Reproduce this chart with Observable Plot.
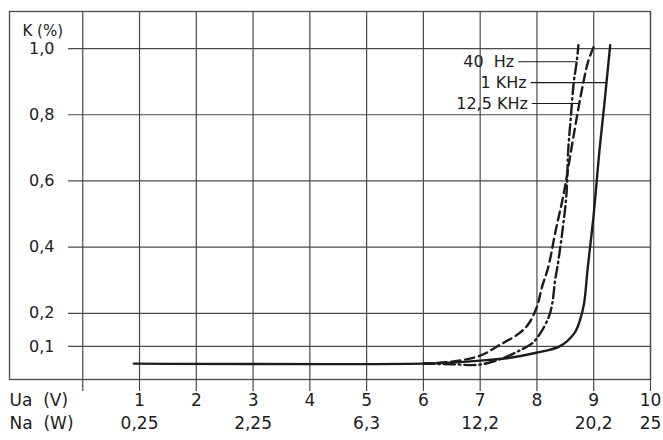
<!DOCTYPE html>
<html>
<head>
<meta charset="utf-8">
<script src="https://cdn.jsdelivr.net/npm/d3@7"></script>
<script src="https://cdn.jsdelivr.net/npm/@observablehq/plot@0.6"></script>
<style>
  html, body { margin: 0; padding: 0; background: #fff; }
  #chart svg { display: block; }
</style>
</head>
<body>
<div id="chart"></div>
<script>
// ---- Axis ticks and labels ----
const gridX = [0, 1, 2, 3, 4, 5, 6, 7, 8, 9, 10];
const uaTicks = [1, 2, 3, 4, 5, 6, 7, 8, 9, 10];
const naTicks = [1, 3, 5, 7, 9, 10];
const naLabels = ["0,25", "2,25", "6,3", "12,2", "20,2", "25"];
const yTicks = [0.1, 0.2, 0.4, 0.6, 0.8, 1.0];
const yLabels = ["0,1", "0,2", "0,4", "0,6", "0,8", "1,0"];

// ---- Series (Ua in V, K in %) ----
const s1kX = [0.9, 6.0, 6.6, 7.0, 7.5, 7.97, 8.4, 8.66, 8.76, 8.83, 8.89, 9.0, 9.1, 9.18, 9.29];
const s1kK = [0.048, 0.048, 0.052, 0.057, 0.065, 0.08, 0.10, 0.14, 0.18, 0.23, 0.33, 0.5, 0.69, 0.82, 1.01];

const s12kX = [6.0, 6.5, 7.0, 7.35, 7.69, 7.86, 8.0, 8.09, 8.2, 8.33, 8.47, 8.6, 8.71, 8.82, 8.9, 9.01];
const s12kK = [0.048, 0.054, 0.072, 0.105, 0.14, 0.17, 0.22, 0.28, 0.34, 0.45, 0.56, 0.69, 0.8, 0.9, 0.96, 1.01];

const s40X = [6.0, 6.5, 7.0, 7.42, 7.7, 7.92, 8.06, 8.21, 8.27, 8.32, 8.36, 8.45, 8.52, 8.55, 8.6, 8.65, 8.7, 8.73];
const s40K = [0.048, 0.046, 0.045, 0.066, 0.088, 0.11, 0.14, 0.19, 0.23, 0.30, 0.34, 0.45, 0.56, 0.69, 0.8, 0.9, 0.96, 1.01];

const seriesNames = ["40\u00a0\u00a0Hz", "1 KHz", "12,5 KHz"];
const legendK = [0.96, 0.897, 0.834];
const legendTextX = [7.6, 7.82, 7.84];

const series = [
  {name: seriesNames[0], xs: s40X, ks: s40K, dash: "11,4,1.5,4"},
  {name: seriesNames[1], xs: s1kX, ks: s1kK, dash: null},
  {name: seriesNames[2], xs: s12kX, ks: s12kK, dash: "9,5"}
];

function xAtK(xs, ks, k) {
  for (let i = 1; i < ks.length; i++) {
    if (ks[i] >= k && ks[i - 1] <= k) {
      const t = (k - ks[i - 1]) / (ks[i] - ks[i - 1]);
      return xs[i - 1] + t * (xs[i] - xs[i - 1]);
    }
  }
  return xs[xs.length - 1];
}

const legend = seriesNames.map((n, i) => {
  const s = series.find(d => d.name === n);
  return {name: n, k: legendK[i], tx: legendTextX[i], x1: legendTextX[i] + 0.07, x2: xAtK(s.xs, s.ks, legendK[i])};
});

const ink = "#1c1c1c";
const gridColor = "#4a4a4a";

const lineMarks = series.map(s => Plot.line(s.xs.map((x, i) => ({x, k: s.ks[i]})), {
  x: "x", y: "k", stroke: ink, strokeWidth: 2.4,
  strokeDasharray: s.dash || undefined, curve: "catmull-rom"
}));

const chart = Plot.plot({
  width: 663, height: 440,
  marginLeft: 9, marginRight: 13, marginTop: 11, marginBottom: 61,
  x: {domain: [-1.29, 10], axis: null},
  y: {domain: [0, 1.112], axis: null},
  style: {fontFamily: "DejaVu Sans", background: "#fff", color: ink},
  marks: [
    Plot.ruleX(gridX, {x: d => d, stroke: gridColor, strokeWidth: 1.2}),
    Plot.axisX({ticks: gridX, tickSize: 12, tickFormat: () => "", stroke: gridColor, strokeWidth: 1.2}),
    Plot.ruleY(yTicks, {y: d => d, x1: -0.25, x2: 10, stroke: gridColor, strokeWidth: 1.2}),
    Plot.frame({stroke: gridColor, strokeWidth: 1.3}),
    // y tick labels
    Plot.text(yTicks, {y: d => d, text: (d, i) => yLabels[i], frameAnchor: "left", dx: 45, textAnchor: "end", fontSize: 16, fill: ink, letterSpacing: 0.5}),
    Plot.text(["K (%)"], {frameAnchor: "top-left", dx: 13, dy: 14, textAnchor: "start", fontSize: 15, fill: ink, text: d => d}),
    // x tick labels
    Plot.text(uaTicks, {x: d => d, text: d => String(d), frameAnchor: "bottom", dy: 26, fontSize: 17, fill: ink}),
    Plot.text(naTicks, {x: d => d, text: (d, i) => naLabels[i], frameAnchor: "bottom", dy: 49, fontSize: 17, fill: ink}),
    Plot.text(["Ua\u00a0\u00a0(V)"], {frameAnchor: "bottom-left", dy: 26, textAnchor: "start", fontSize: 17, fill: ink, text: d => d, letterSpacing: 0.6}),
    Plot.text(["Na\u00a0\u00a0(W)"], {frameAnchor: "bottom-left", dy: 49, textAnchor: "start", fontSize: 17, fill: ink, text: d => d, letterSpacing: 0.6}),
    ...lineMarks,
    // legend leaders and labels
    Plot.link(legend, {x1: "x1", x2: "x2", y1: "k", y2: "k", stroke: ink, strokeWidth: 1.1}),
    Plot.text(legend, {x: "tx", y: "k", text: "name", textAnchor: "end", fontSize: 16, fill: ink, letterSpacing: 1})
  ]
});

document.getElementById("chart").appendChild(chart);
</script>
</body>
</html>
